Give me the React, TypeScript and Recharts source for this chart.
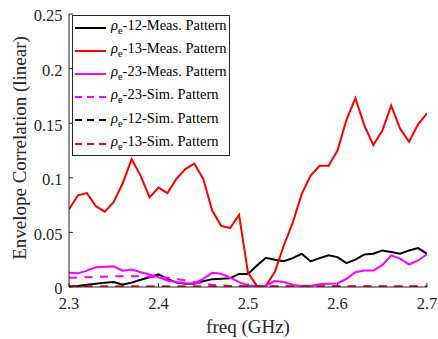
import React from "react";
import { LineChart, Line, XAxis, YAxis, Legend } from "recharts";

const FREQ = [
  2.3, 2.31, 2.32, 2.33, 2.34, 2.35, 2.36, 2.37, 2.38, 2.39,
  2.4, 2.41, 2.42, 2.43, 2.44, 2.45, 2.46, 2.47, 2.48, 2.49,
  2.5, 2.51, 2.52, 2.53, 2.54, 2.55, 2.56, 2.57, 2.58, 2.59,
  2.6, 2.61, 2.62, 2.63, 2.64, 2.65, 2.66, 2.67, 2.68, 2.69, 2.7,
];

const MEAS_12 = [
  0.0007, 0.001, 0.002, 0.003, 0.004, 0.0045, 0.0022, 0.004, 0.0066, 0.009,
  0.0115, 0.0075, 0.004, 0.003, 0.003, 0.0053, 0.0072, 0.0075, 0.008, 0.012,
  0.012, 0.0197, 0.0268, 0.025, 0.0237, 0.0264, 0.0304, 0.0234, 0.0264, 0.029,
  0.0274, 0.0218, 0.025, 0.0298, 0.0304, 0.0335, 0.032, 0.0304, 0.0335, 0.0356, 0.0304,
];

const MEAS_13 = [
  0.071, 0.084, 0.086, 0.074, 0.069, 0.078, 0.095, 0.117, 0.102, 0.082,
  0.091, 0.086, 0.099, 0.108, 0.113, 0.099, 0.07, 0.056, 0.054, 0.066,
  0.013, 0.001, 0.001, 0.014, 0.038, 0.059, 0.085, 0.102, 0.111, 0.111,
  0.125, 0.153, 0.173, 0.148, 0.13, 0.143, 0.166, 0.145, 0.133, 0.149, 0.159,
];

const MEAS_23 = [
  0.013, 0.0125, 0.015, 0.018, 0.0185, 0.019, 0.015, 0.016, 0.0135, 0.0115,
  0.009, 0.006, 0.0045, 0.0035, 0.003, 0.0075, 0.013, 0.0122, 0.0085, 0.0045,
  0.0014, 0.001, 0.0012, 0.0055, 0.0045, 0.002, 0.0007, 0.001, 0.0025, 0.003,
  0.0032, 0.0075, 0.0136, 0.015, 0.015, 0.02, 0.029, 0.026, 0.0206, 0.0243, 0.03,
];

const SIM_23 = [
  0.0085, 0.0087, 0.0089, 0.0092, 0.0095, 0.0097, 0.0099, 0.0099, 0.0097, 0.0094,
  0.009, 0.0085, 0.0075, 0.006, 0.0045, 0.003, 0.002, 0.0015, 0.001, 0.0008,
  0.0006, 0.0005, 0.0005, 0.0005, 0.0005, 0.0005, 0.0005, 0.0005, 0.0005, 0.0005,
  0.0005, 0.0005, 0.0005, 0.0005, 0.0005, 0.0005, 0.0005, 0.0005, 0.0005, 0.0005, 0.0005,
];

const SIM_12 = FREQ.map(() => 0.0003);
const SIM_13 = FREQ.map(() => 0.0004);

const X_TICKS = [2.3, 2.4, 2.5, 2.6, 2.7];
const Y_TICKS = [0, 0.05, 0.1, 0.15, 0.2, 0.25];

const SERIES = [
  { key: "m12", label: "-12-Meas. Pattern", color: "#000000", dashed: false, values: MEAS_12 },
  { key: "m13", label: "-13-Meas. Pattern", color: "#ff0000", dashed: false, values: MEAS_13 },
  { key: "m23", label: "-23-Meas. Pattern", color: "#ff00ff", dashed: false, values: MEAS_23 },
  { key: "s23", label: "-23-Sim. Pattern", color: "#ff00ff", dashed: true, values: SIM_23 },
  { key: "s12", label: "-12-Sim. Pattern", color: "#000000", dashed: true, values: SIM_12 },
  { key: "s13", label: "-13-Sim. Pattern", color: "#ff0000", dashed: true, values: SIM_13 },
];

const data = FREQ.map((f, i) => {
  const row: Record<string, number> = { f };
  SERIES.forEach(s => { row[s.key] = s.values[i]; });
  return row;
});

const FONT = "Liberation Serif";
const AXIS = "#262626";
const DASH = "8 7.5";

const tickStyle = { fill: AXIS, fontSize: 16.5, fontFamily: FONT };

const XLabel = ({ viewBox }: any) => (
  <text x={viewBox.x + viewBox.width / 2} y={viewBox.y + 45.5} textAnchor="middle"
    fill={AXIS} fontSize={19} fontFamily={FONT}>
    freq (GHz)
  </text>
);

const YLabel = ({ viewBox }: any) => {
  const cx = 25.5;
  const cy = viewBox.y + viewBox.height / 2 - 2.5;
  return (
    <text x={cx} y={cy} transform={`rotate(-90 ${cx} ${cy})`} textAnchor="middle"
      fill={AXIS} fontSize={19} fontFamily={FONT}>
      Envelope Correlation (linear)
    </text>
  );
};

const LegendBox = () => (
  <div style={{
    width: 158, border: `1px solid ${AXIS}`, background: "#fff",
    fontFamily: FONT, fontSize: 14.5, color: "#000", boxSizing: "border-box",
  }}>
    {SERIES.map(s => (
      <div key={s.key} style={{ height: 23.2, display: "flex", alignItems: "center" }}>
        <svg width={36} height={10} style={{ marginLeft: 2, flex: "none" }}>
          <line x1={0} y1={5} x2={31} y2={5} stroke={s.color} strokeWidth={2}
            strokeDasharray={s.dashed ? "7 5" : undefined} />
        </svg>
        <span style={{ whiteSpace: "nowrap", lineHeight: "14px", fontFamily: FONT }}>
          <i>ρ</i><sub style={{ fontSize: "0.72em", verticalAlign: "-0.35em" }}>e</sub>{s.label}
        </span>
      </div>
    ))}
  </div>
);

export default function App() {
  return (
    <div style={{ position: "absolute", left: 0, top: 0, background: "#fff", fontFamily: FONT }}>
      <LineChart width={438} height={339} data={data}
        margin={{ top: 14, right: 11, bottom: 0, left: 0 }}>
        <XAxis dataKey="f" type="number" domain={[2.3, 2.7]} ticks={X_TICKS}
          allowDataOverflow height={52} stroke={AXIS} tick={tickStyle}
          tickSize={-4} tickMargin={14.5} tickFormatter={v => String(v)}
          label={<XLabel />} />
        <XAxis xAxisId="top" orientation="top" dataKey="f" type="number" domain={[2.3, 2.7]}
          ticks={X_TICKS} allowDataOverflow height={0} stroke={AXIS} tick={false} tickSize={-4} />
        <YAxis type="number" domain={[0, 0.25]} ticks={Y_TICKS} allowDataOverflow
          width={69} stroke={AXIS} tick={{ ...tickStyle, dy: 1.5 }} tickSize={-4} tickMargin={10.5}
          tickFormatter={v => String(v)} label={<YLabel />} />
        <YAxis yAxisId="right" orientation="right" type="number" domain={[0, 0.25]}
          ticks={Y_TICKS} allowDataOverflow width={0} stroke={AXIS} tick={false} tickSize={-4} />
        <Legend layout="vertical" align="center" verticalAlign="middle"
          wrapperStyle={{ left: 72, top: 15, width: 158 }} content={() => <LegendBox />} />
        {SERIES.map(s => (
          <Line key={s.key} dataKey={s.key} type="linear" stroke={s.color} strokeWidth={2}
            strokeDasharray={s.dashed ? DASH : undefined} dot={false}
            isAnimationActive={false} legendType="none" />
        ))}
      </LineChart>
    </div>
  );
}
